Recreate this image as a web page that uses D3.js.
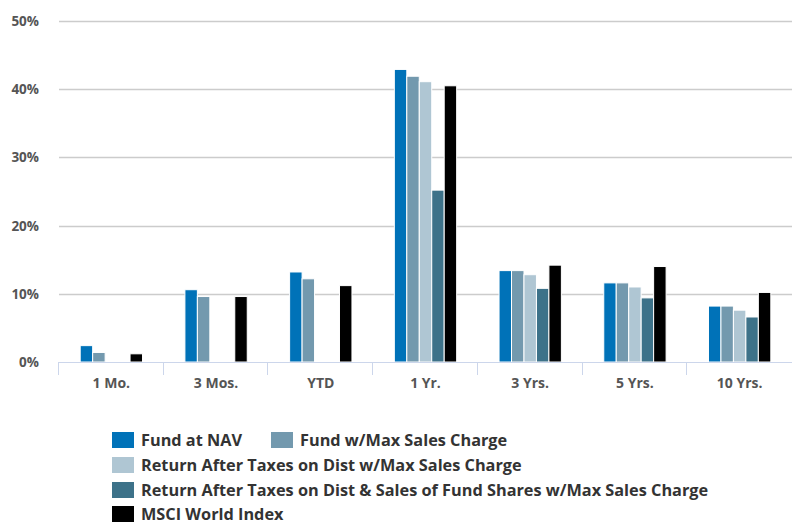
<!DOCTYPE html>
<html>
<head>
    <meta charset="utf-8">
    <title>Fund Returns</title>
    <script src="https://d3js.org/d3.v7.min.js"></script>
    <style>
        body { margin: 0; background: #fff; }
        text { font-family: "Open Sans", "DejaVu Sans", sans-serif; }
    </style>
</head>
<body>
    <div id="chart"></div>
    <script>
        // periods along the x axis
        var periods = ["1 Mo.", "3 Mos.", "YTD", "1 Yr.", "3 Yrs.", "5 Yrs.", "10 Yrs."];

        // series names and their values (%), null = no bar
        var seriesNames = [
            "Fund at NAV",
            "Fund w/Max Sales Charge",
            "Return After Taxes on Dist w/Max Sales Charge",
            "Return After Taxes on Dist & Sales of Fund Shares w/Max Sales Charge",
            "MSCI World Index"
        ];
        var fundNav = [2.4, 10.6, 13.2, 42.9, 13.4, 11.6, 8.2];
        var fundMax = [1.4, 9.6, 12.2, 41.9, 13.4, 11.6, 8.2];
        var afterTaxDist = [null, null, null, 41.1, 12.8, 11.0, 7.6];
        var afterTaxSales = [null, null, null, 25.2, 10.8, 9.4, 6.6];
        var msciWorld = [1.2, 9.6, 11.2, 40.5, 14.2, 14.0, 10.2];
        var yTicks = [0, 10, 20, 30, 40, 50];

        var colors = ["#0072b8", "#7399ae", "#afc6d3", "#3d7289", "#000000"];
        var allSeries = [fundNav, fundMax, afterTaxDist, afterTaxSales, msciWorld];

        var W = 792, H = 525;
        var margin = { top: 21, right: 0, bottom: 163, left: 59 };
        var width = W - margin.left - margin.right,
            height = H - margin.top - margin.bottom;

        var svg = d3.select("#chart").append("svg")
            .attr("width", W)
            .attr("height", H);

        var g = svg.append("g")
            .attr("transform", "translate(" + margin.left + "," + margin.top + ")");

        var x0 = d3.scaleBand().domain(periods).range([0, width]).paddingInner(0).paddingOuter(0);
        var x1 = d3.scaleBand().domain(d3.range(seriesNames.length))
            .range([0, x0.bandwidth()]).paddingOuter(1.7).paddingInner(0);
        var y = d3.scaleLinear().domain([0, 50]).range([height, 0]);

        // gridlines
        g.selectAll(".grid").data(yTicks.filter(function (d) { return d > 0; }))
            .enter().append("line")
            .attr("x1", 0).attr("x2", width)
            .attr("y1", function (d) { return Math.round(y(d)) + 0.5; })
            .attr("y2", function (d) { return Math.round(y(d)) + 0.5; })
            .attr("stroke", "#cccccc")
            .attr("stroke-width", 1.5);

        // y labels
        g.selectAll(".ylab").data(yTicks)
            .enter().append("text")
            .attr("x", -20)
            .attr("y", function (d) { return y(d) + 5; })
            .attr("text-anchor", "end")
            .attr("fill", "#555")
            .attr("font-size", "13.5px")
            .attr("font-weight", "bold")
            .text(function (d) { return d + "%"; });

        // bars
        allSeries.forEach(function (vals, si) {
            var pts = vals.map(function (v, i) { return { period: periods[i], value: v }; })
                .filter(function (d) { return d.value !== null; });
            g.selectAll(".bar" + si).data(pts)
                .enter().append("rect")
                .attr("x", function (d) { return x0(d.period) + x1(si); })
                .attr("y", function (d) { return y(d.value); })
                .attr("width", x1.bandwidth())
                .attr("height", function (d) { return height - y(d.value); })
                .attr("fill", colors[si])
                .attr("stroke", "#fff")
                .attr("stroke-width", 1);
        });

        // x axis
        var xAxis = g.append("g").attr("transform", "translate(0," + height + ")");
        xAxis.append("line")
            .attr("x1", 0).attr("x2", width)
            .attr("y1", 0.5).attr("y2", 0.5)
            .attr("stroke", "#ccd6eb");
        var bounds = periods.map(function (p) { return x0(p); });
        xAxis.selectAll(".tick").data(bounds)
            .enter().append("line")
            .attr("x1", function (d) { return Math.round(d) - 0.5; })
            .attr("x2", function (d) { return Math.round(d) - 0.5; })
            .attr("y1", 0).attr("y2", 13)
            .attr("stroke", "#ccd6eb");
        xAxis.selectAll(".xlab").data(periods)
            .enter().append("text")
            .attr("x", function (d) { return x0(d) + x0.bandwidth() / 2; })
            .attr("y", 26)
            .attr("text-anchor", "middle")
            .attr("fill", "#555")
            .attr("font-size", "14px")
            .attr("font-weight", "bold")
            .text(function (d) { return d; });

        // legend
        var legendPos = [
            { x: 112, y: 432 }, { x: 271, y: 432 },
            { x: 112, y: 457 }, { x: 112, y: 482 }, { x: 112, y: 506 }
        ];
        var legend = svg.selectAll(".legend").data(seriesNames)
            .enter().append("g")
            .attr("transform", function (d, i) { return "translate(" + legendPos[i].x + "," + legendPos[i].y + ")"; });
        legend.append("rect")
            .attr("width", 22).attr("height", 16)
            .attr("fill", function (d, i) { return colors[i]; });
        legend.append("text")
            .attr("x", 29).attr("y", 14)
            .attr("fill", "#333")
            .attr("font-size", "16.3px")
            .attr("font-weight", "bold")
            .text(function (d) { return d; });
    </script>
</body>
</html>
